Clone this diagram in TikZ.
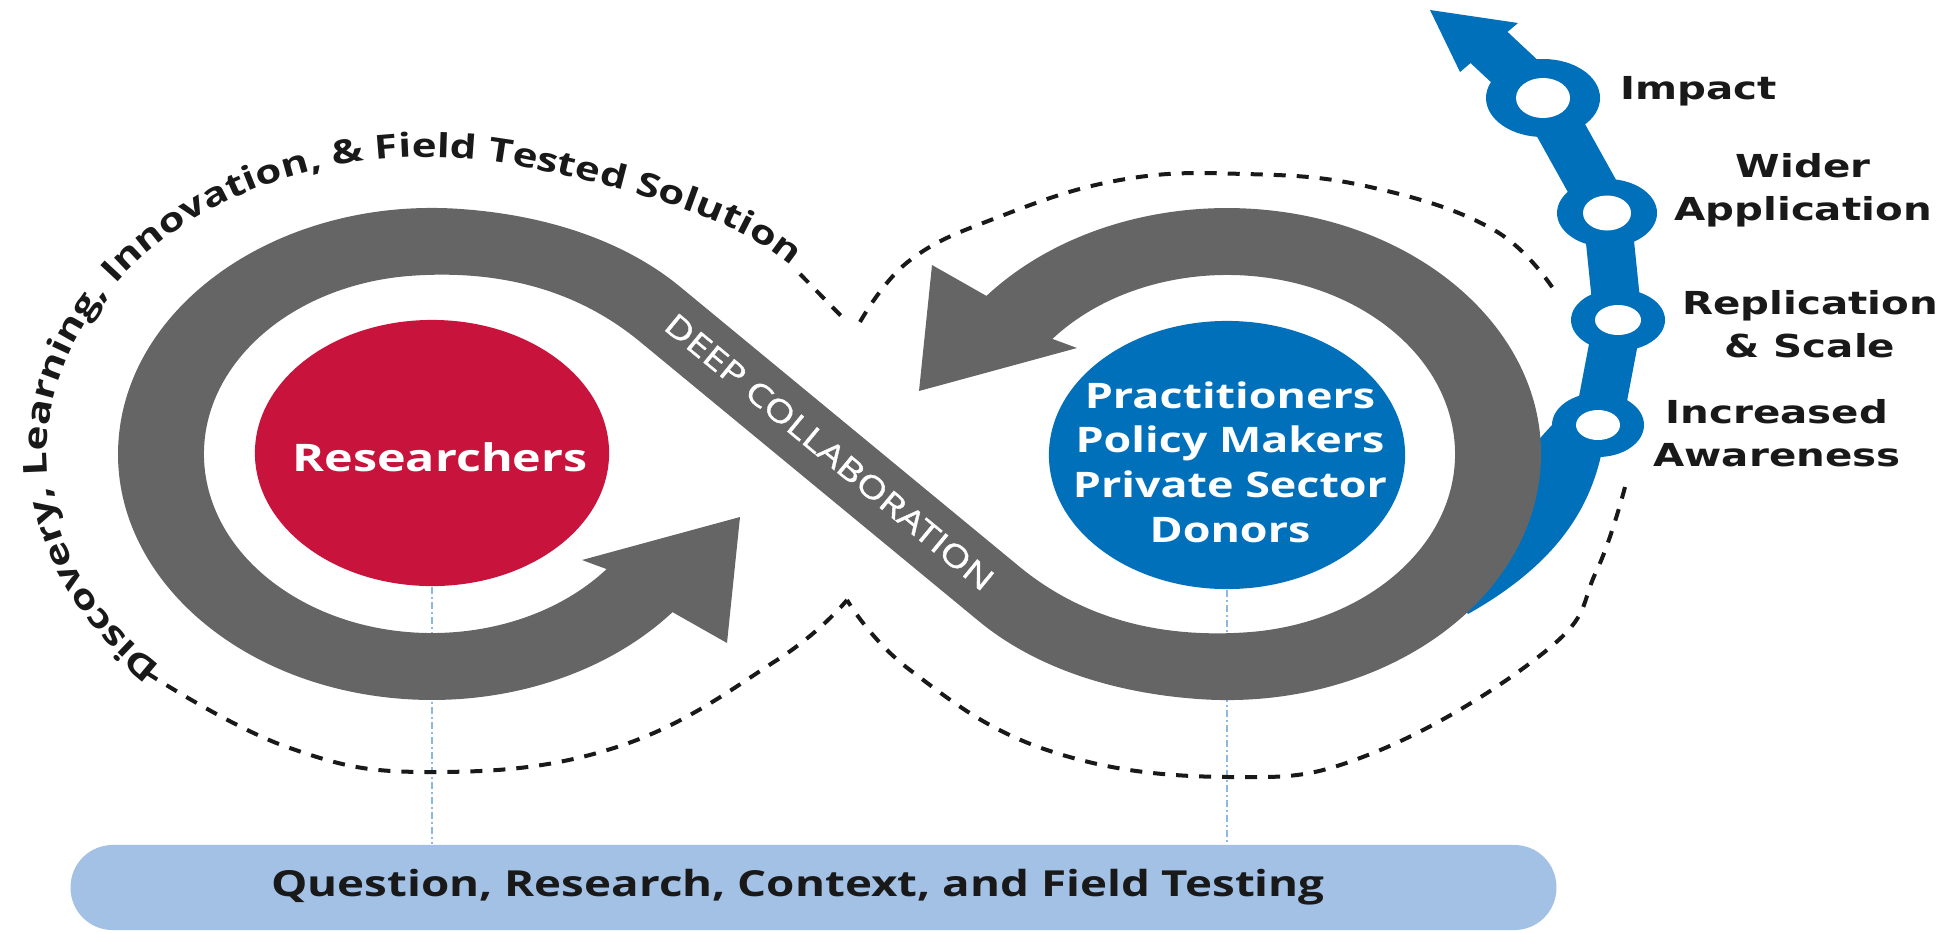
\documentclass[tikz,border=0pt]{standalone}
\usepackage{fontspec}
\usetikzlibrary{shapes.geometric, decorations.text}
\newfontfamily\osans{Open Sans}[FakeStretch=1.275]
\newfontfamily\osansmed{Open Sans}[FakeStretch=1.25, FakeBold=1.2]
\newfontfamily\dsans{DejaVu Sans}[FakeStretch=1.275]
\definecolor{bandgray}{RGB}{101,101,101}
\definecolor{resred}{RGB}{200,20,60}
\definecolor{partblue}{RGB}{0,112,186}
\definecolor{baseblue}{RGB}{163,193,229}
\definecolor{dotblue}{RGB}{140,185,228}
\definecolor{inkblack}{RGB}{25,25,25}
\pgfdeclarelayer{background}
\pgfsetlayers{background,main}
\begin{document}
\begin{tikzpicture}[x=0.01cm, y=0.01cm,
  dashline/.style={inkblack, line width=0.04cm, dash pattern=on 0.12cm off 0.11cm},
  vdots/.style={dotblue, line width=0.025cm, dash pattern=on 0.07cm off 0.03cm on 0.02cm off 0.03cm},
  chainseg/.style={partblue, line width=0.48cm},
  lbl/.style={inkblack, font=\dsans\bfseries\fontsize{9}{12.2}\selectfont, align=center, inner sep=0pt},
  circtext/.style={text=white, align=center, inner sep=0pt},
]
\useasboundingbox (0,0) rectangle (1952,932);

% dashed infinity outline
\draw[dashline] plot[smooth, tension=0.7] coordinates {(147,259) (287,185) (430,160) (617,185) (777,272) (847,332)};
\draw[dashline] (800,658) -- (848,609);
\draw[dashline] plot[smooth, tension=0.7] coordinates {(860,610) (909,671) (996,714) (1120,752) (1245,758) (1370,745) (1494,702) (1556,639)};
\draw[dashline] plot[smooth, tension=0.7] coordinates {(1625,445) (1596,360) (1547,282) (1373,179) (1228,155) (1047,182) (910,262) (847,332)};

% curved text
\path[decorate, decoration={text along path, text align=right,
  text={|\osans\bfseries\fontsize{9.4}{11}\selectfont\color{inkblack}|Discovery, Learning, Innovation, {\&} Field Tested Solution}}]
  (193.1,244.0) arc[start angle=232, end angle=75, x radius=380, y radius=297]
  .. controls (623.3,744.4) and (730.7,717.4) .. (792,666);

% blue progress chain
\fill[partblue] (1552,507) -- (1606,507) .. controls (1598,430) and (1560,370) .. (1468,318)
  .. controls (1455,330) and (1470,420) .. (1552,507) -- cycle;
\draw[chainseg] (1480,893) -- (1543,834) -- (1607,719) -- (1618,612) -- (1598,507);
\fill[partblue] (1430,922) -- (1518,909) -- (1460,860) -- cycle;
\fill[partblue] (1543,834) ellipse[x radius=57, y radius=39];
\fill[white] (1543,834) ellipse[x radius=27, y radius=20];
\fill[partblue] (1607,719) ellipse[x radius=50, y radius=34];
\fill[white] (1607,719) ellipse[x radius=24, y radius=17.5];
\fill[partblue] (1618,612) ellipse[x radius=47, y radius=31];
\fill[white] (1618,612) ellipse[x radius=23, y radius=15];
\fill[partblue] (1598,507) ellipse[x radius=46, y radius=32];
\fill[white] (1598,507) ellipse[x radius=22, y radius=15];

% gray infinity band with two arrowheads
\fill[bandgray] (672.5,319.9) -- (727,289) -- (740,415) -- (582,372) -- (606.6,362.9)
  arc[start angle=-40, end angle=-265, x radius=228, y radius=179]
  .. controls (501.9,662.5) and (578.3,641.2) .. (640,590.3)
  -- (979,310.7)
  .. controls (1033,266.2) and (1109.8,239.05) .. (1199.6,232.9)
  arc[start angle=265, end angle=500, x radius=314, y radius=246]
  -- (932,667) -- (919,541) -- (1077,584) -- (1052.4,593.1)
  arc[start angle=140, end angle=-85, x radius=228, y radius=179]
  .. controls (1157.1,293.5) and (1080.7,314.8) .. (1019,365.7)
  -- (680,645.3)
  .. controls (626.0,689.8) and (549.2,716.95) .. (459.4,723.1)
  arc[start angle=85, end angle=320, x radius=314, y radius=246]
  -- cycle;
\node[rotate=-39.5, text=white, inner sep=0pt, font=\osansmed\fontsize{8.8}{10}\selectfont] (deep) at (829.5,480) {DEEP COLLABORATION};

% circles
\node[ellipse, fill=resred, minimum width=3.54cm, minimum height=2.66cm, inner sep=0pt] (res) at (432,479) {};
\node[circtext, font=\osans\bfseries\fontsize{10.8}{13}\selectfont] (restext) at (440,475) {Researchers};
\node[ellipse, fill=partblue, minimum width=3.56cm, minimum height=2.68cm, inner sep=0pt] (prac) at (1227,477) {};
\node[circtext, font=\osans\bfseries\fontsize{10}{12.7}\selectfont] (practext) at (1230,470) {Practitioners\\Policy Makers\\Private Sector\\Donors};

% bottom band
\node[rectangle, rounded corners=0.42cm, fill=baseblue, minimum width=14.85cm, minimum height=0.85cm, inner sep=0pt] (base) at (813.5,44.5) {};
\node[inkblack, inner sep=0pt, font=\osans\bfseries\fontsize{10.2}{12}\selectfont] (basetext) at (798,44.5) {Question, Research, Context, and Field Testing};

\begin{pgfonlayer}{background}
\draw[vdots] (res.south) -- (res.south |- base.north);
\draw[vdots] (prac.south) -- (prac.south |- base.north);
\end{pgfonlayer}

% right labels
\node[lbl, anchor=west] (impact) at (1620,840.5) {Impact};
\node[lbl] (wider) at (1803,742) {Wider\\Application};
\node[lbl] (repl) at (1810,608) {Replication\\\& Scale};
\node[lbl] (aware) at (1777,498.5) {Increased\\Awareness};
\end{tikzpicture}
\end{document}
